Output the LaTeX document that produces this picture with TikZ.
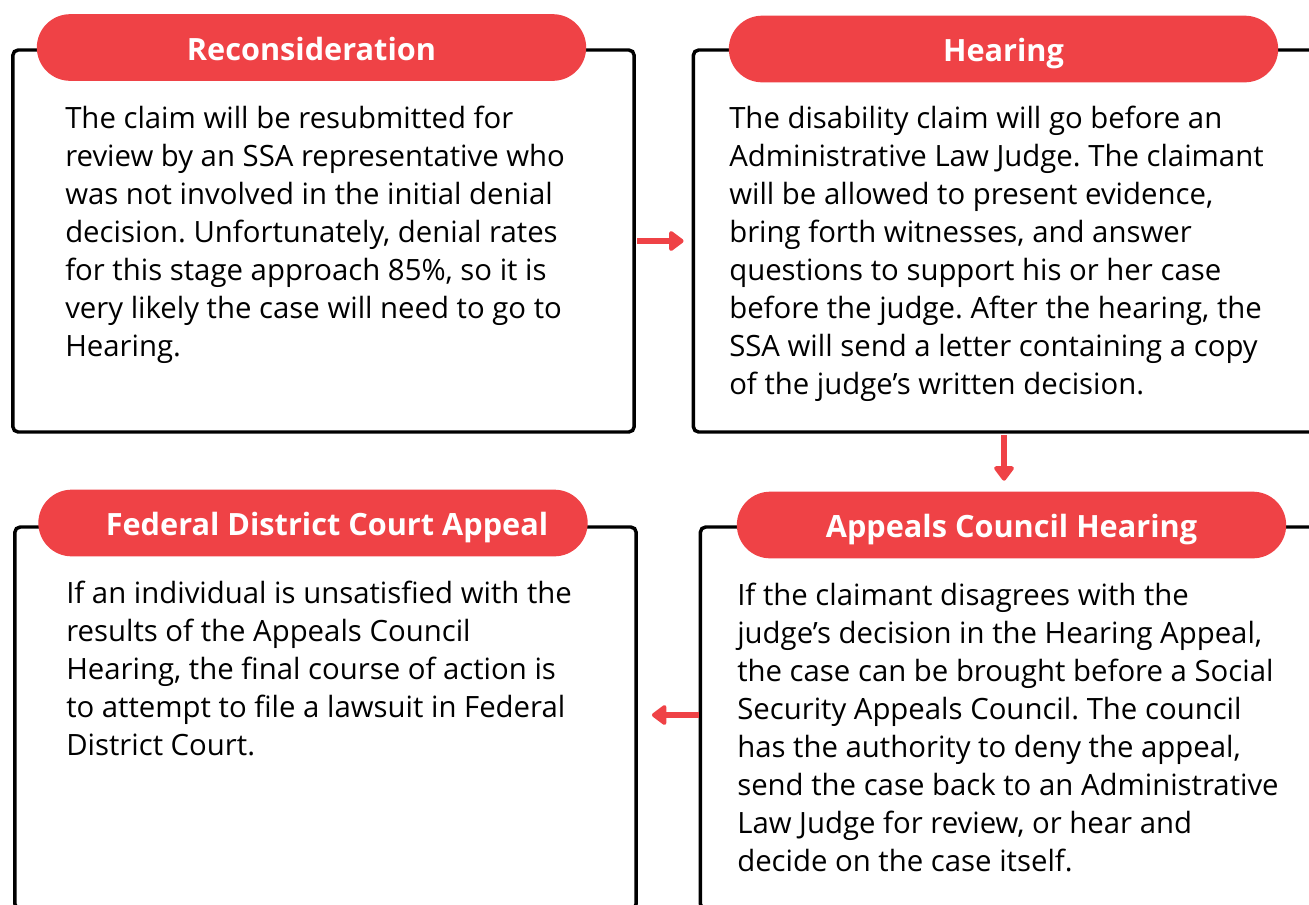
\documentclass[tikz,border=0pt]{standalone}
\usepackage{fontspec}
\setmainfont{Open Sans}
\usetikzlibrary{arrows.meta}
\definecolor{appealred}{RGB}{239,66,70}
\frenchspacing

\begin{document}
\begin{tikzpicture}[x=0.75pt,y=-0.75pt,
    stagebox/.style={draw,line width=2.6pt,rounded corners=4pt,
        minimum width=466pt,minimum height=286.5pt},
    pill/.style={fill=appealred,rounded corners=25pt,text=white,
        minimum width=412pt,minimum height=50pt,
        text height=19pt,text depth=0pt,
        font=\fontsize{23}{27}\selectfont\bfseries},
    body/.style={anchor=north west,align=left,inner sep=0pt,
        font=\fontsize{22}{28.5}\selectfont},
    flow/.style={appealred,line width=4.5pt,
        -{Triangle[length=12pt,width=17pt,round]}}]
    \useasboundingbox (0,0) rectangle (1309,904);
    \clip (0,0) rectangle (1309,904);

    % the four stages
    \node[stagebox] (recon) at (323.5,241) {};
    \node[stagebox] (hearing) at (1004,241) {};
    \node[stagebox] (council) at (1011,718) {};
    \node[stagebox] (fedcourt) at (325.5,718) {};

    \node[pill] (recontitle) at (311.5,47.5) {Reconsideration};
    \node[pill] (hearingtitle) at (1003.5,49) {Hearing};
    \node[pill] (counciltitle) at (1011.5,525) {Appeals Council Hearing\hspace{8pt}};
    \node[pill] (fedcourttitle) at (313,523) {\hspace{21pt}Federal District Court Appeal};

    \node[body] (recontext) at (65,106) {The claim will be resubmitted for\\
        review by an SSA representative who\\
        was not involved in the initial denial\\
        decision. Unfortunately, denial rates\\
        for this stage approach 85\%, so it is\\
        very likely the case will need to go to\\
        Hearing.};

    \node[body] (hearingtext) at (729,106) {The disability claim will go before an\\
        Administrative Law Judge. The claimant\\
        will be allowed to present evidence,\\
        bring forth witnesses, and answer\\
        questions to support his or her case\\
        before the judge. After the hearing, the\\
        SSA will send a letter containing a copy\\
        of the judge’s written decision.};

    \node[body] (counciltext) at (737,583) {If the claimant disagrees with the\\
        judge’s decision in the Hearing Appeal,\\
        the case can be brought before a Social\\
        Security Appeals Council. The council\\
        has the authority to deny the appeal,\\
        send the case back to an Administrative\\
        Law Judge for review, or hear and\\
        decide on the case itself.};

    \node[body] (fedcourttext) at (66,581) {If an individual is unsatisfied with the\\
        results of the Appeals Council\\
        Hearing, the final course of action is\\
        to attempt to file a lawsuit in Federal\\
        District Court.};

    % arrows between stages
    \draw[flow,shorten <=1pt,shorten >=6pt] (recon) -- (hearing);
    \draw[flow,shorten <=1pt,shorten >=8pt] (hearing.south) -- (hearing.south |- counciltitle.north);
    \draw[flow,shorten >=10.5pt] (council.west |- 0,715) -- (fedcourt.east |- 0,715);
\end{tikzpicture}
\end{document}
